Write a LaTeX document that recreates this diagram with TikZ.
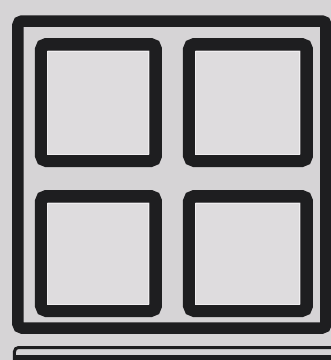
\documentclass[tikz,border=0pt]{standalone}
\usepackage{tikz}
\tikzset{
  % Outer window frame: thick dark line, small rounded corners
  framebox/.style={draw=ink, line width=11.5pt, rounded corners=4pt},
  % Window pane: thick dark line, light fill
  panebox/.style={draw=ink, fill=paneface, line width=12.5pt, rounded corners=5pt},
  % Thin light edge just inside a pane
  paneedge/.style={draw=paneline, line width=1pt},
  % Next frame below, cut off by the edge
  nextline/.style={draw=ink, line width=3pt, rounded corners=4pt}
}
\definecolor{ink}{RGB}{30,30,32}
\definecolor{paper}{RGB}{214,212,214}
\definecolor{paneface}{RGB}{222,220,222}
\definecolor{paneline}{RGB}{240,238,240}

\begin{document}
\begin{tikzpicture}[x=1pt, y=-1pt]

% ============== Background and margins ==============
\fill[paper] (0,0) rectangle (331,360);
\useasboundingbox (0,0) rectangle (331,360);

% ============== Outer frame ==============
\begin{scope}
  \clip (0,0) rectangle (331,360);
  \draw[framebox] (18,21) rectangle (326,328);

% ============== Four panes ==============
  \draw[panebox] (41.25,44.25) rectangle (155.75,160.75);
  \draw[panebox] (189.25,44.25) rectangle (306.75,160.75);
  \draw[panebox] (41.25,196.25) rectangle (155.75,310.75);
  \draw[panebox] (189.25,196.25) rectangle (306.75,310.75);

  \draw[paneedge] (48,51) rectangle (149,154);
  \draw[paneedge] (196,51) rectangle (300,154);
  \draw[paneedge] (48,203) rectangle (149,304);
  \draw[paneedge] (196,203) rectangle (300,304);

% ============== Frame below (cropped) ==============
  \draw[nextline] (14.5,347.5) rectangle (400,420);
  \fill[ink] (13,355) rectangle (331,360);
\end{scope}

\end{tikzpicture}
\end{document}
